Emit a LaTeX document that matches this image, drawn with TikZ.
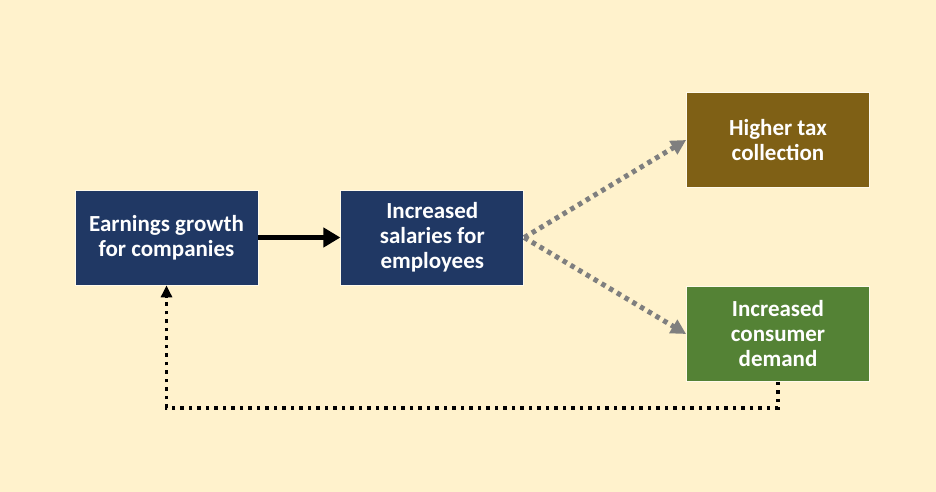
\documentclass[tikz,border=0pt]{standalone}
\usepackage{fontspec}
\setmainfont{Carlito}
\usetikzlibrary{arrows.meta, positioning}
\definecolor{cream}{HTML}{FFF2CC}
\definecolor{navy}{HTML}{203864}
\definecolor{bronze}{HTML}{7F6015}
\definecolor{leaf}{HTML}{548235}
\definecolor{ash}{HTML}{7F7F7F}
\tikzset{
  blk/.style   ={rectangle, draw=white!60!cream, line width=0.8pt, text=white,
                 align=center, font=\fontsize{23}{25}\selectfont\bfseries,
                 minimum width=183pt, minimum height=95pt, inner sep=0pt},
  blkn/.style  ={blk, fill=navy},
  blkb/.style  ={blk, fill=bronze},
  blkl/.style  ={blk, fill=leaf},
  ar/.style    ={-{Triangle[length=17pt, width=19pt]}, draw=black, line width=5.5pt},
  dar/.style   ={-{Triangle[length=15pt, width=15pt]}, draw=ash, line width=5pt,
                 dash pattern=on 4.5pt off 4.5pt},
  fb/.style    ={-{Triangle[length=12pt, width=11pt]}, draw=black, line width=3.5pt,
                 dash pattern=on 3.5pt off 5pt},
}
\begin{document}
\begin{tikzpicture}[x=1pt, y=-1pt]
\fill[cream] (0,0) rectangle (936,492);
\node[blkn] (earn) at (166.5,237.5) {Earnings growth\\for companies};
\node[blkn, right=82pt of earn] (sal) {Increased\\salaries for\\employees};
\node[blkb] (tax) at (778,140) {Higher tax\\collection};
\node[blkl] (dem) at (778,334) {Increased\\consumer\\demand};
\draw[ar] (earn) -- (sal);
\draw[dar] (sal.east) -- (tax.west);
\draw[dar] (sal.east) -- (dem.west);
\draw[fb] (dem.south) -- ++(0,26) -| (earn.south);
\end{tikzpicture}
\end{document}
